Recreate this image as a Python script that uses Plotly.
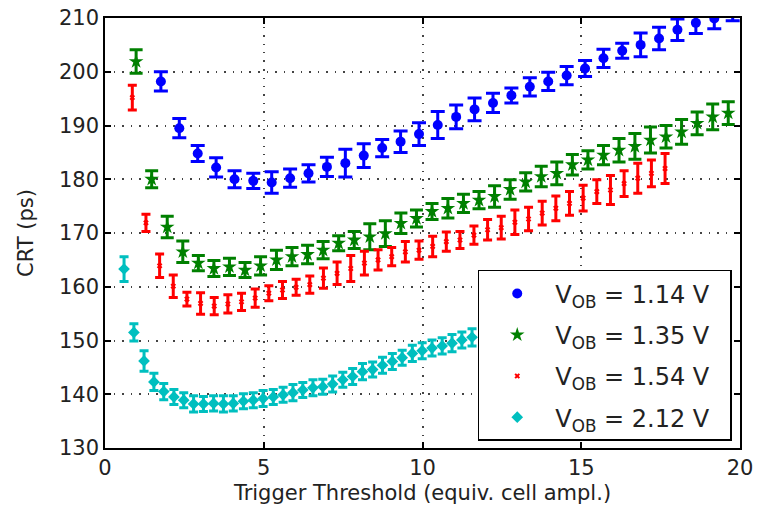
import plotly.graph_objects as go

# ---- data ----
names = ["V<sub>OB</sub> = 1.14 V&nbsp;&nbsp;", "V<sub>OB</sub> = 1.35 V&nbsp;&nbsp;",
         "V<sub>OB</sub> = 1.54 V&nbsp;&nbsp;", "V<sub>OB</sub> = 2.12 V&nbsp;&nbsp;"]

x_114 = [1.76, 2.34, 2.92, 3.50, 4.08, 4.67, 5.25, 5.83, 6.41, 6.99, 7.57, 8.15,
         8.73, 9.31, 9.89, 10.48, 11.06, 11.64, 12.22, 12.80, 13.38, 13.96, 14.54,
         15.12, 15.70, 16.29, 16.87, 17.45, 18.03, 18.61, 19.19, 19.77]
y_114 = [198.2, 189.5, 184.8, 182.2, 180.0, 179.7, 179.4, 180.2, 181.1, 182.3, 183.0,
         184.4, 185.8, 187.0, 188.4, 190.1, 191.6, 193.0, 194.2, 195.6, 197.2, 198.2,
         199.3, 200.6, 202.5, 203.9, 205.0, 206.2, 207.8, 209.1, 209.9, 211.5]
e_114 = [1.8, 1.8, 1.5, 1.8, 1.6, 1.4, 2.0, 1.7, 1.6, 1.8, 2.6, 2.2, 1.6, 2.0, 2.1,
         2.5, 2.2, 2.1, 1.8, 1.4, 1.7, 1.7, 1.7, 1.5, 1.7, 1.4, 2.2, 2.1, 2.0, 2.0,
         1.9, 2.0]

x_135 = [0.98, 1.47, 1.96, 2.45, 2.94, 3.43, 3.92, 4.41, 4.90, 5.40, 5.89, 6.38,
         6.87, 7.36, 7.85, 8.34, 8.83, 9.32, 9.81, 10.30, 10.80, 11.29, 11.78, 12.27,
         12.76, 13.25, 13.74, 14.23, 14.72, 15.21, 15.70, 16.19, 16.69, 17.18, 17.67,
         18.16, 18.65, 19.14, 19.63]
y_135 = [201.9, 180.0, 171.1, 166.5, 164.4, 163.4, 163.7, 163.1, 163.9, 165.0, 165.6,
         166.0, 166.8, 168.1, 168.7, 169.3, 169.9, 171.8, 172.7, 174.0, 174.6, 175.5,
         176.1, 176.8, 178.1, 179.5, 180.5, 181.1, 182.7, 183.6, 184.5, 185.4, 186.1,
         187.3, 187.9, 188.8, 190.4, 191.6, 192.3]
e_135 = [2.2, 1.6, 2.0, 2.0, 1.4, 1.5, 1.6, 1.4, 1.7, 1.8, 1.7, 1.7, 1.6, 1.4, 1.6,
         2.4, 2.4, 1.9, 1.6, 1.5, 1.8, 1.7, 1.6, 2.0, 1.8, 1.7, 1.9, 2.1, 1.9, 1.7,
         1.8, 2.2, 2.4, 2.4, 2.1, 2.3, 2.1, 2.4, 2.1]

x_154 = [0.86, 1.29, 1.72, 2.15, 2.58, 3.01, 3.44, 3.87, 4.30, 4.73, 5.16, 5.59,
         6.02, 6.45, 6.88, 7.31, 7.74, 8.17, 8.60, 9.03, 9.46, 9.89, 10.32, 10.75,
         11.18, 11.62, 12.05, 12.48, 12.91, 13.34, 13.77, 14.20, 14.63, 15.06, 15.49,
         15.92, 16.35, 16.78, 17.21, 17.64]
y_154 = [195.2, 171.9, 163.9, 160.1, 157.7, 156.9, 156.4, 156.8, 157.2, 157.9, 158.8,
         159.4, 159.9, 160.4, 161.6, 162.5, 163.4, 164.4, 165.0, 165.6, 166.5, 166.8,
         167.5, 168.4, 168.7, 169.6, 170.6, 171.0, 172.0, 172.6, 173.7, 174.6, 175.5,
         176.5, 177.7, 178.0, 179.2, 180.2, 181.1, 182.0]
e_154 = [2.3, 1.6, 2.2, 2.1, 1.3, 2.0, 1.6, 1.7, 1.6, 1.7, 1.4, 1.6, 1.5, 1.6, 1.9,
         2.1, 2.4, 2.2, 1.9, 1.7, 1.9, 1.7, 1.9, 1.8, 1.6, 1.7, 1.9, 2.1, 2.3, 2.2,
         2.2, 2.3, 2.2, 2.4, 2.2, 2.7, 2.4, 2.8, 2.5, 2.8]

x_212 = [0.60, 0.91, 1.23, 1.54, 1.85, 2.17, 2.48, 2.79, 3.10, 3.42, 3.73, 4.04,
         4.36, 4.67, 4.98, 5.30, 5.61, 5.92, 6.23, 6.55, 6.86, 7.17, 7.49, 7.80,
         8.11, 8.43, 8.74, 9.05, 9.36, 9.68, 9.99, 10.30, 10.62, 10.93, 11.24, 11.56]
y_212 = [163.3, 151.5, 146.2, 142.3, 140.5, 139.5, 138.9, 138.2, 138.2, 138.3, 138.2,
         138.3, 138.7, 138.9, 139.2, 139.5, 139.9, 140.3, 140.8, 141.2, 141.4, 141.9,
         142.7, 143.3, 144.2, 144.6, 145.4, 146.1, 146.8, 147.6, 148.1, 148.6, 149.0,
         149.5, 150.1, 150.6]
e_212 = [2.3, 1.6, 1.9, 1.6, 1.5, 1.4, 1.4, 1.5, 1.4, 1.4, 1.5, 1.4, 1.4, 1.4, 1.5,
         1.4, 1.4, 1.5, 1.4, 1.5, 1.4, 1.5, 1.4, 1.5, 1.5, 1.4, 1.5, 1.5, 1.4, 1.5,
         1.5, 1.5, 1.5, 1.6, 1.5, 1.6]

x_ticks = [0, 5, 10, 15, 20]
y_ticks = [130, 140, 150, 160, 170, 180, 190, 200, 210]

series = [
    (x_114, y_114, e_114, "#0000FF", "circle", 10, 7),
    (x_135, y_135, e_135, "#008000", "star", 11, 6.5),
    (x_154, y_154, e_154, "#FF0000", "x", 5, 4.5),
    (x_212, y_212, e_212, "#00BFBF", "diamond", 9, 4.5),
]

FONT = "DejaVu Sans"
TXT = "#222222"
fig = go.Figure()
for i, ((xs, ys, es, col, sym, msz, capw), nm) in enumerate(zip(series, names)):
    fig.add_trace(go.Scatter(
        x=xs, y=ys, name=nm, mode="markers", legendgroup=f"g{i}",
        marker=dict(color=col, symbol=sym, size=msz, line=dict(width=0)),
        error_y=dict(type="data", array=es, visible=True, color=col,
                     thickness=3, width=capw),
    ))

axis_common = dict(showline=True, linecolor="black", linewidth=1.5, mirror="ticks",
                   ticks="inside", ticklen=6, tickwidth=1.5, tickcolor="black",
                   showgrid=True, gridcolor="#444444", griddash="1.5px,7px",
                   gridwidth=1.5, zeroline=False, automargin=False,
                   tickfont=dict(family=FONT, size=21, color=TXT))

fig.update_xaxes(range=[0, 20], tickvals=x_ticks, **axis_common,
                 title=dict(text="Trigger Threshold (equiv. cell ampl.)",
                            font=dict(family=FONT, size=21, color=TXT), standoff=6))
fig.update_yaxes(range=[130, 210], tickvals=y_ticks, **axis_common,
                 title=dict(text="CRT (ps)",
                            font=dict(family=FONT, size=21, color=TXT), standoff=20))

fig.update_layout(
    width=757, height=510,
    margin=dict(l=105, r=17, t=18, b=62),
    plot_bgcolor="white", paper_bgcolor="white",
    font=dict(family=FONT, color=TXT),
    legend=dict(x=0.587, xanchor="left", y=0.414, yanchor="top",
                bgcolor="white", bordercolor="black", borderwidth=1.5,
                font=dict(family=FONT, size=24, color=TXT),
                itemsizing="trace", itemwidth=66, tracegroupgap=7),
)

fig.write_html("out.html")
